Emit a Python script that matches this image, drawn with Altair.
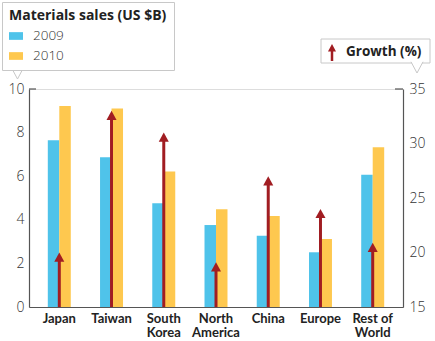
import altair as alt
import pandas as pd

countries = ["Japan", "Taiwan", "South\nKorea", "North\nAmerica", "China", "Europe", "Rest of\nWorld"]
sales_2009 = [7.65, 6.87, 4.76, 3.76, 3.27, 2.51, 6.07]
sales_2010 = [9.22, 9.11, 6.21, 4.48, 4.17, 3.12, 7.33]
growth = [20.0, 33.0, 31.0, 19.1, 27.0, 24.0, 20.9]
years = ["2009", "2010"]
left_ticks = [0, 2, 4, 6, 8, 10]
right_ticks = [15, 20, 25, 30, 35]
growth_base = 15

BLUE = "#4fc3ea"
YELLOW = "#fec84f"
RED = "#a11d22"
AXIS = "#555555"
BOX = "#c8c8c8"
FONT = "Lato"
FONT2 = "Open Sans"

bars_df = pd.DataFrame({
    "country": countries * 2,
    "year": [years[0]] * len(countries) + [years[1]] * len(countries),
    "sales": sales_2009 + sales_2010,
})
growth_df = pd.DataFrame({"country": countries, "growth": growth, "base": [growth_base] * len(countries)})
one = pd.DataFrame({"k": [0]})

xscale = alt.Scale(domain=countries, paddingInner=0.56, paddingOuter=0.36)
xaxis = alt.Axis(title=None, labelExpr="split(datum.label, '\\n')", labelAngle=0, ticks=False,
                 domainColor=AXIS, domainWidth=1.2, labelFont=FONT, labelFontWeight="bold",
                 labelFontSize=13, labelColor="#222", labelPadding=5, labelLineHeight=14.5,
                 labelBaseline="top")

bars = alt.Chart(bars_df).mark_bar().encode(
    x=alt.X("country:N", scale=xscale, axis=xaxis, sort=countries),
    xOffset=alt.XOffset("year:N", scale=alt.Scale(paddingInner=0, paddingOuter=0)),
    y=alt.Y("sales:Q", scale=alt.Scale(domain=[0, 10], nice=False),
            axis=alt.Axis(title=None, values=left_ticks, ticks=False, grid=False, domainColor=AXIS,
                          domainWidth=1.2, labelFont=FONT2, labelFontSize=14, labelColor="#333",
                          labelPadding=5, labelFontWeight=300)),
    color=alt.Color("year:N", scale=alt.Scale(domain=years, range=[BLUE, YELLOW]),
                    legend=alt.Legend(title="Materials sales (US $B)", orient="none", legendX=-27,
                                      legendY=-87, padding=7, strokeColor=BOX, fillColor="white",
                                      titleFont=FONT2, titleFontSize=14, titleFontWeight="bold",
                                      titleColor="#222", titlePadding=6, labelFont=FONT2,
                                      labelFontSize=13.5, labelColor="#333", labelFontWeight=300,
                                      symbolType="M-1,-0.55L1,-0.55L1,0.55L-1,0.55Z", symbolSize=196,
                                      symbolStrokeWidth=0, symbolOpacity=1, rowPadding=6,
                                      labelOffset=10)),
)

yright = alt.Y("growth:Q", scale=alt.Scale(domain=[15, 35], nice=False),
               axis=alt.Axis(title=None, orient="right", values=right_ticks, ticks=False, grid=False,
                             domainColor=AXIS, domainWidth=1.2, labelFont=FONT2, labelFontSize=14,
                             labelColor="#333", labelPadding=6, labelFontWeight=300))
shaft = alt.Chart(growth_df).mark_rule(color=RED, strokeWidth=3, yOffset=5).encode(
    x=alt.X("country:N", scale=xscale, sort=countries), y=yright, y2="base:Q")
head = alt.Chart(growth_df).mark_point(shape="M0,0L0.6,1.1L-0.6,1.1Z", filled=True, color=RED,
                                       size=280, opacity=1).encode(
    x=alt.X("country:N", scale=xscale, sort=countries), y=yright)
arrows = alt.layer(shaft, head)

POINTER = "M-0.6,-0.12L0,1L0.6,-0.12"

deco = [
    alt.Chart(one).mark_rule(color=AXIS, strokeWidth=1.2).encode(x=alt.value(0), x2=alt.value(7), y=alt.value(0)),
    alt.Chart(one).mark_rule(color=AXIS, strokeWidth=1.2).encode(x=alt.value(366), x2=alt.value(374), y=alt.value(0)),
    alt.Chart(one).mark_rect(fill="white", stroke=BOX, strokeWidth=1).encode(
        x=alt.value(292), x2=alt.value(401), y=alt.value(-50), y2=alt.value(-26)),
    alt.Chart(one).mark_point(shape=POINTER, fill="white", stroke=BOX, strokeWidth=1, size=400,
                              opacity=1, fillOpacity=1).encode(x=alt.value(388), y=alt.value(-26)),
    alt.Chart(one).mark_point(shape=POINTER, fill="white", stroke=BOX, strokeWidth=1, size=324,
                              opacity=1, fillOpacity=1).encode(x=alt.value(-11.5), y=alt.value(-19)),
    alt.Chart(one).mark_rule(color=RED, strokeWidth=2.5).encode(
        x=alt.value(303), y=alt.value(-40), y2=alt.value(-28)),
    alt.Chart(one).mark_point(shape="M0,0L0.6,1.1L-0.6,1.1Z", filled=True, color=RED, size=180,
                              opacity=1).encode(x=alt.value(303), y=alt.value(-45)),
    alt.Chart(one).mark_text(text="Growth (%)", font=FONT2, fontWeight="bold", fontSize=13.5,
                             color="#222", align="left", baseline="alphabetic").encode(
        x=alt.value(317), y=alt.value(-33)),
]

chart = alt.layer(bars, arrows, *deco).resolve_scale(y="independent").properties(
    width=374, height=218, autosize=alt.AutoSizeParams(type="none"),
    padding={"left": 29, "top": 89, "right": 32, "bottom": 34},
).configure_view(stroke=None).configure(background="white")

chart.save("out.html", embed_options={"renderer": "svg", "actions": False})
